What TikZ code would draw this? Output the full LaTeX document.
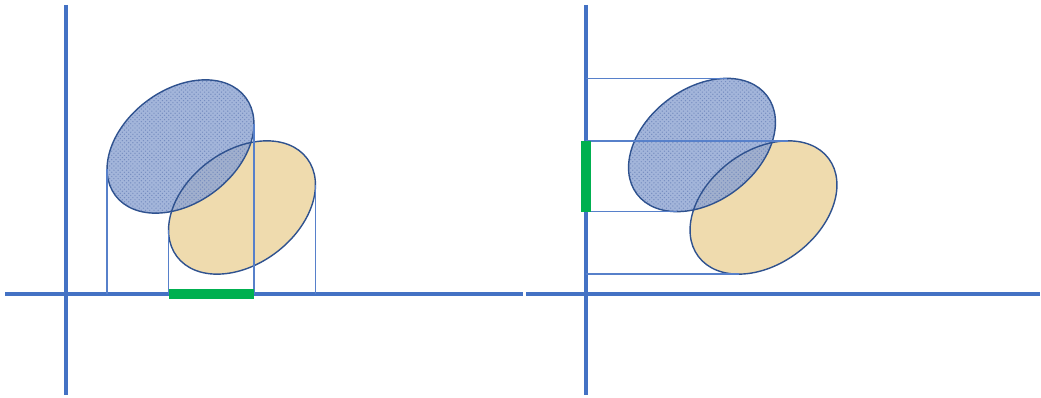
\documentclass[tikz,border=0pt]{standalone}
\usetikzlibrary{patterns}
\definecolor{axisblue}{HTML}{4472C4}
\definecolor{rimblue}{HTML}{2F528F}
\definecolor{clothblue}{HTML}{93A8D3}
\definecolor{clothdark}{HTML}{6E86BC}
\definecolor{papyrus}{HTML}{EFDBAE}
\definecolor{bargreen}{HTML}{00B050}

\begin{document}
\begin{tikzpicture}[x=0.025cm, y=0.025cm,
  axis/.style={axisblue, line width=2.2pt},
  proj/.style={axisblue!90, line width=0.9pt},
  bar/.style={bargreen, line width=7pt},
  rim/.style={rimblue, line width=1pt},
  cloth/.style={fill=clothblue, fill opacity=0.85,
                postaction={pattern=crosshatch dots, pattern color=clothdark}},
  paper/.style={fill=papyrus},
  blob/.style={rotate=37},
]
\useasboundingbox (0,0) rectangle (1041,-398);

% left panel: shadow on the x axis
\coordinate (lo) at (66,-294);
\draw[axis] (5,-294) -- (523,-294);
\draw[axis] (66,-5) -- (66,-395);

\fill[paper, shift={(242,-207.5)}, blob] (0,0) ellipse [x radius=81.5, y radius=56.5];
\fill[cloth, shift={(180.5,-146.5)}, blob] (0,0) ellipse [x radius=81.5, y radius=56.5];
\draw[rim, shift={(242,-207.5)}, blob] (0,0) ellipse [x radius=81.5, y radius=56.5];
\draw[rim, shift={(180.5,-146.5)}, blob] (0,0) ellipse [x radius=81.5, y radius=56.5];

\begin{scope}[shift={(180.5,-146.5)}]
  \coordinate (lbL) at (-73.4,-22.6);
  \coordinate (lbR) at (73.4,22.6);
\end{scope}
\begin{scope}[shift={(242,-207.5)}]
  \coordinate (loL) at (-73.4,-22.6);
  \coordinate (loR) at (73.4,22.6);
\end{scope}

\draw[proj] (lbL) -- (lbL |- lo);
\draw[proj] (lbR) -- (lbR |- lo);
\draw[proj] (loL) -- (loL |- lo);
\draw[proj] (loR) -- (loR |- lo);
\draw[bar] (loL |- lo) -- (lbR |- lo);

% right panel: shadow on the y axis
\coordinate (ro) at (586,-294);
\draw[axis] (526,-294) -- (1040,-294);
\draw[axis] (586,-5) -- (586,-395);

\fill[paper, shift={(763.5,-207.5)}, blob] (0,0) ellipse [x radius=81.5, y radius=56.5];
\fill[cloth, shift={(702,-145)}, blob] (0,0) ellipse [x radius=81.5, y radius=56.5];
\draw[rim, shift={(763.5,-207.5)}, blob] (0,0) ellipse [x radius=81.5, y radius=56.5];
\draw[rim, shift={(702,-145)}, blob] (0,0) ellipse [x radius=81.5, y radius=56.5];

\begin{scope}[shift={(702,-145)}]
  \coordinate (rbT) at (24.9,66.6);
  \coordinate (rbB) at (-24.9,-66.6);
\end{scope}
\begin{scope}[shift={(763.5,-207.5)}]
  \coordinate (roT) at (24.9,66.6);
  \coordinate (roB) at (-24.9,-66.6);
\end{scope}

\draw[proj] (rbT) -- (rbT -| ro);
\draw[proj] (rbB) -- (rbB -| ro);
\draw[proj] (roT) -- (roT -| ro);
\draw[proj] (roB) -- (roB -| ro);
\draw[bar] (roT -| ro) -- (rbB -| ro);

\end{tikzpicture}
\end{document}
